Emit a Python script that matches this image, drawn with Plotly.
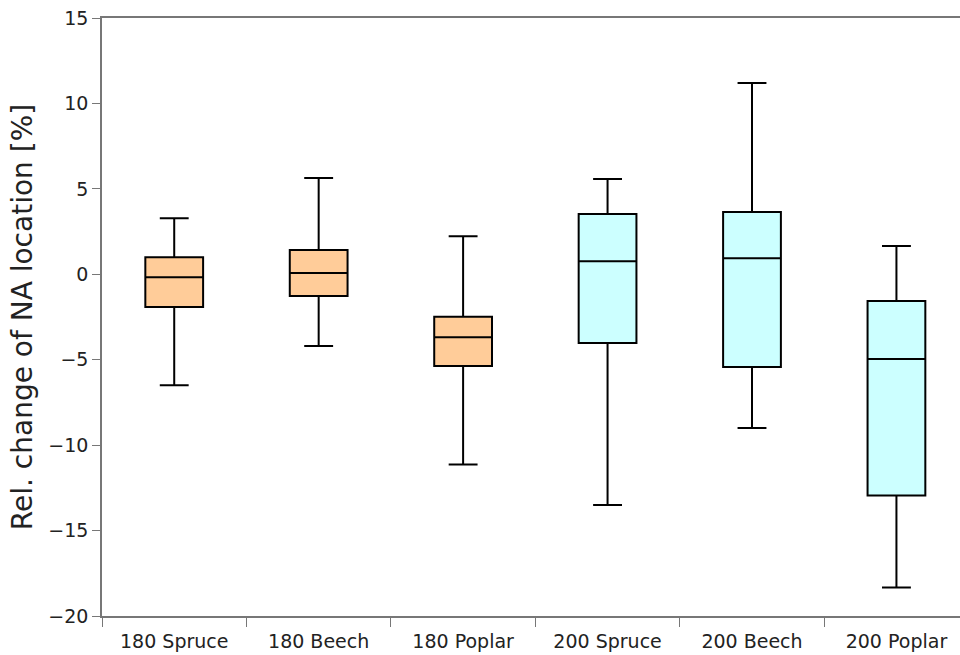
import plotly.graph_objects as go

categories = ["180 Spruce", "180 Beech", "180 Poplar", "200 Spruce", "200 Beech", "200 Poplar"]
lower = [-6.5, -4.2, -11.14, -13.5, -9.0, -18.33]
q1 = [-1.91, -1.27, -5.37, -4.02, -5.42, -12.95]
median = [-0.18, 0.08, -3.69, 0.76, 0.94, -4.96]
q3 = [0.99, 1.42, -2.48, 3.53, 3.65, -1.56]
upper = [3.28, 5.63, 2.22, 5.58, 11.19, 1.66]
colors = ["#FFCC99", "#FFCC99", "#FFCC99", "#CCFFFF", "#CCFFFF", "#CCFFFF"]

fig = go.Figure()
for i, c in enumerate(categories):
    fig.add_trace(go.Box(
        x=[c], lowerfence=[lower[i]], q1=[q1[i]], median=[median[i]],
        q3=[q3[i]], upperfence=[upper[i]],
        fillcolor=colors[i], line=dict(color="black", width=2),
        width=0.4, whiskerwidth=0.5, boxpoints=False, showlegend=False,
        hoverinfo="y",
    ))

fig.update_layout(
    width=960, height=655,
    margin=dict(l=102, r=0, t=18, b=39),
    paper_bgcolor="white", plot_bgcolor="white",
    boxmode="overlay",
    font=dict(family="DejaVu Sans", size=19, color="#222"),
    xaxis=dict(
        type="category", categoryorder="array", categoryarray=categories,
        range=[-0.5, 5.44], showgrid=False, zeroline=False,
        showline=True, linecolor="#777", linewidth=1.5, mirror=True,
        ticks="outside", tickson="boundaries", ticklen=9, tickcolor="#777",
        tickfont=dict(size=19), ticklabelstandoff=7, automargin=False,
    ),
    yaxis=dict(
        range=[-20, 15], dtick=5, showgrid=False, zeroline=False,
        showline=True, linecolor="#777", linewidth=1.5,
        ticks="outside", ticklen=8, tickcolor="#777",
        tickfont=dict(size=19), automargin=False,
        title=dict(text="Rel. change of NA location [%]", font=dict(size=28), standoff=8),
    ),
)

fig.write_html("out.html")
